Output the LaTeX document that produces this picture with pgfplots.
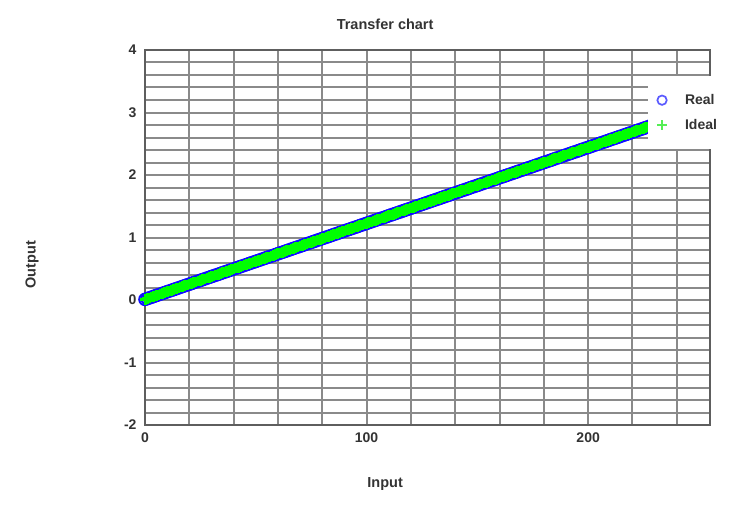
\documentclass[border=0pt]{standalone}
\usepackage{pgfplots}
\usepackage{pgfplotstable}
\pgfplotsset{compat=1.18}
\usepackage{fontspec}
\setmainfont{Liberation Sans}
\definecolor{txt}{HTML}{333333}
\definecolor{gridc}{HTML}{8A8A8A}
\definecolor{axc}{HTML}{5E5E5E}
\definecolor{realc}{HTML}{1010FF}
\definecolor{idealc}{HTML}{00FF00}
\definecolor{legreal}{HTML}{5A5AFF}
\definecolor{legideal}{HTML}{55EE55}
\pgfplotstableread{
x y
0 0.010
1 0.022
2 0.034
3 0.046
4 0.059
5 0.071
6 0.083
7 0.095
8 0.107
9 0.119
10 0.132
11 0.144
12 0.156
13 0.168
14 0.180
15 0.192
16 0.205
17 0.217
18 0.229
19 0.241
20 0.253
21 0.265
22 0.278
23 0.290
24 0.302
25 0.314
26 0.326
27 0.338
28 0.351
29 0.363
30 0.375
31 0.387
32 0.399
33 0.411
34 0.423
35 0.436
36 0.448
37 0.460
38 0.472
39 0.484
40 0.496
41 0.509
42 0.521
43 0.533
44 0.545
45 0.557
46 0.569
47 0.582
48 0.594
49 0.606
50 0.618
51 0.630
52 0.642
53 0.655
54 0.667
55 0.679
56 0.691
57 0.703
58 0.715
59 0.727
60 0.740
61 0.752
62 0.764
63 0.776
64 0.788
65 0.800
66 0.813
67 0.825
68 0.837
69 0.849
70 0.861
71 0.873
72 0.886
73 0.898
74 0.910
75 0.922
76 0.934
77 0.946
78 0.959
79 0.971
80 0.983
81 0.995
82 1.007
83 1.019
84 1.031
85 1.044
86 1.056
87 1.068
88 1.080
89 1.092
90 1.104
91 1.117
92 1.129
93 1.141
94 1.153
95 1.165
96 1.177
97 1.190
98 1.202
99 1.214
100 1.226
101 1.238
102 1.250
103 1.263
104 1.275
105 1.287
106 1.299
107 1.311
108 1.323
109 1.335
110 1.348
111 1.360
112 1.372
113 1.384
114 1.396
115 1.408
116 1.421
117 1.433
118 1.445
119 1.457
120 1.469
121 1.481
122 1.494
123 1.506
124 1.518
125 1.530
126 1.542
127 1.554
128 1.567
129 1.579
130 1.591
131 1.603
132 1.615
133 1.627
134 1.639
135 1.652
136 1.664
137 1.676
138 1.688
139 1.700
140 1.712
141 1.725
142 1.737
143 1.749
144 1.761
145 1.773
146 1.785
147 1.798
148 1.810
149 1.822
150 1.834
151 1.846
152 1.858
153 1.871
154 1.883
155 1.895
156 1.907
157 1.919
158 1.931
159 1.943
160 1.956
161 1.968
162 1.980
163 1.992
164 2.004
165 2.016
166 2.029
167 2.041
168 2.053
169 2.065
170 2.077
171 2.089
172 2.102
173 2.114
174 2.126
175 2.138
176 2.150
177 2.162
178 2.175
179 2.187
180 2.199
181 2.211
182 2.223
183 2.235
184 2.247
185 2.260
186 2.272
187 2.284
188 2.296
189 2.308
190 2.320
191 2.333
192 2.345
193 2.357
194 2.369
195 2.381
196 2.393
197 2.406
198 2.418
199 2.430
200 2.442
201 2.454
202 2.466
203 2.479
204 2.491
205 2.503
206 2.515
207 2.527
208 2.539
209 2.551
210 2.564
211 2.576
212 2.588
213 2.600
214 2.612
215 2.624
216 2.637
217 2.649
218 2.661
219 2.673
220 2.685
221 2.697
222 2.710
223 2.722
224 2.734
225 2.746
226 2.758
227 2.770
228 2.783
229 2.795
230 2.807
231 2.819
232 2.831
233 2.843
234 2.855
235 2.868
236 2.880
237 2.892
238 2.904
239 2.916
240 2.928
241 2.941
242 2.953
243 2.965
244 2.977
245 2.989
246 3.001
247 3.014
248 3.026
249 3.038
250 3.050
251 3.062
252 3.074
253 3.087
254 3.099
255 3.111
}\datatable
\begin{document}
\begin{tikzpicture}[x=1pt,y=1pt]
\path[use as bounding box] (0,0) rectangle (751,507);
\begin{axis}[
  at={(145pt,82pt)}, anchor=south west,
  width=565pt, height=375pt, scale only axis,
  xmin=0, xmax=255, ymin=-2, ymax=4,
  axis on top,
  xtick={0,20,40,60,80,100,120,140,160,180,200,220,240},
  xticklabels={0,,,,,100,,,,,200,,},
  ytick={-2,-1.8,-1.6,-1.4,-1.2,-1,-0.8,-0.6,-0.4,-0.2,0,0.2,0.4,0.6,0.8,1,1.2,1.4,1.6,1.8,2,2.2,2.4,2.6,2.8,3,3.2,3.4,3.6,3.8,4},
  yticklabels={-2,,,,,-1,,,,,0,,,,,1,,,,,2,,,,,3,,,,,4},
  xmajorgrids, ymajorgrids,
  major grid style={draw=gridc, line width=2pt},
  axis line style={draw=axc, line width=2.4pt},
  major tick length=0pt,
  ticklabel style={font=\bfseries\fontsize{14}{15}\selectfont, text=txt},
  yticklabel style={xshift=-5pt},
  xticklabel style={yshift=-4pt},
  title={Transfer chart},
  title style={at={(axis description cs:0.425,1.029)}, anchor=south, font=\bfseries\fontsize{14.5}{16}\selectfont, text=txt},
  xlabel={Input},
  xlabel style={at={(axis description cs:0.425,-0.157)}, anchor=center, font=\bfseries\fontsize{14.5}{16}\selectfont, text=txt},
  ylabel={Output},
  ylabel style={at={(axis description cs:-0.200,0.427)}, anchor=center, font=\bfseries\fontsize{14.5}{16}\selectfont, text=txt},
  legend style={at={(axis description cs:0.890,0.9307)}, anchor=north west,
    fill=white, draw=none, inner xsep=0pt, inner ysep=16pt, row sep=9pt,
    font=\bfseries\fontsize{14}{15}\selectfont, text=txt,
    nodes={inner xsep=0pt, inner ysep=0pt}},
  legend cell align=left,
]
\addplot[only marks, mark=o, mark size=5.8pt, draw=realc, line width=2pt, mark options={draw=realc},
  legend image code/.code={\path[draw=none, fill=none] (-14pt,-8pt) rectangle (23pt,8pt);
    \draw[only marks, mark=o, draw=legreal, line width=1.7pt, mark size=4.7pt, mark options={draw=legreal}] plot coordinates {(0pt,0pt)};}]
  table[x=x, y=y] {\datatable};
\addlegendentry{Real}
\addplot[only marks, mark=+, mark size=5.3pt, draw=idealc, line width=3pt, mark options={draw=idealc},
  legend image code/.code={\path[draw=none, fill=none] (-14pt,-8pt) rectangle (23pt,8pt);
    \draw[only marks, mark=+, draw=legideal, line width=1.7pt, mark size=4.7pt, mark options={draw=legideal}] plot coordinates {(0pt,0pt)};}]
  table[x=x, y=y] {\datatable};
\addlegendentry{Ideal}
\end{axis}
\end{tikzpicture}
\end{document}
